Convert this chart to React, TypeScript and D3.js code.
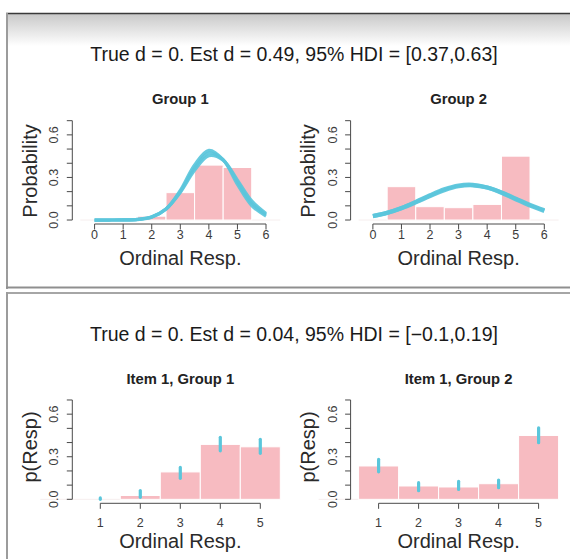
import React from "react";
import * as d3 from "d3";

const FONT = "'Liberation Sans', Arial, Helvetica, sans-serif";
const CYAN = "#5BC6DB";
const PINK = "#F7BBC1";
const AXIS = "#4a4a4a";
const TXT = "#3c3c3c";

const topTitle = "True d = 0. Est d = 0.49, 95% HDI = [0.37,0.63]";
const bottomTitle = "True d = 0. Est d = 0.04, 95% HDI = [\u22120.1,0.19]";
const groupTitles = ["Group 1", "Group 2"];
const itemTitles = ["Item 1, Group 1", "Item 1, Group 2"];
const topYLabel = "Probability";
const bottomYLabel = "p(Resp)";
const xLabel = "Ordinal Resp.";

const responses = [1, 2, 3, 4, 5];
const group1Props = [0, 0.027, 0.193, 0.387, 0.37];
const group2Props = [0.235, 0.094, 0.087, 0.11, 0.45];

const curveX = [0, 0.5, 1, 1.5, 2, 2.5, 3, 3.5, 4, 4.5, 5, 5.5, 6];
const g1CurveA = [0, 0, 0.0005, 0.004, 0.021, 0.077, 0.2, 0.368, 0.472, 0.424, 0.268, 0.118, 0.037];
const g1CurveB = [0, 0, 0.0004, 0.0034, 0.0195, 0.077, 0.209, 0.388, 0.491, 0.425, 0.251, 0.1015, 0.028];
const g1CurveC = [0, 0.0001, 0.0007, 0.0046, 0.0223, 0.0775, 0.1945, 0.35, 0.4527, 0.421, 0.281, 0.135, 0.0467];
const g2CurveA = [0.0278, 0.0503, 0.0829, 0.1243, 0.1694, 0.2104, 0.2377, 0.2445, 0.2289, 0.1951, 0.1513, 0.1068, 0.0686];
const g2CurveB = [0.0279, 0.0511, 0.0848, 0.1278, 0.1746, 0.2165, 0.2434, 0.2482, 0.2296, 0.1926, 0.1465, 0.1011, 0.0632];

const item1G1Low = [0.0, 0.014, 0.148, 0.342, 0.324];
const item1G1High = [0.01, 0.062, 0.225, 0.437, 0.423];
const item1G2Low = [0.194, 0.061, 0.07, 0.082, 0.399];
const item1G2High = [0.282, 0.117, 0.127, 0.136, 0.504];

const yTickValues = [0, 0.1, 0.2, 0.3, 0.4, 0.5, 0.6, 0.7];
const yLabelValues = [0, 0.3, 0.6];
const topXTicks = [0, 1, 2, 3, 4, 5, 6];
const bottomXTicks = [1, 2, 3, 4, 5];

type PanelProps = {
  off: number;
  top: boolean;
  title: string;
  ylabel: string;
  bars: number[];
  curves?: number[][];
  curveWidth?: number;
  low?: number[];
  high?: number[];
};

function Panel({ off, top, title, ylabel, bars, curves, curveWidth, low, high }: PanelProps) {
  const plotL = 72.3 + off;
  const plotR = 288.3 + off;
  const axisY = top ? 224 : 503.3;
  const plotT = axisY - 107.3;
  const x = d3
    .scaleLinear()
    .domain(top ? [-0.78, 6.78] : [0.3, 5.7])
    .range([plotL, plotR]);
  const y = d3.scaleLinear().domain([-0.028, 0.728]).range([axisY, plotT]);
  const xt = top ? topXTicks : bottomXTicks;
  const cx = (plotL + plotR) / 2;
  const line = d3
    .line<[number, number]>()
    .x((d) => x(d[0]))
    .y((d) => y(d[1]))
    .curve(d3.curveCatmullRom);
  const titleY = top ? 104 : 384;
  const tickLabY = top ? 238.5 : 527;
  const xLabY = top ? 265 : 548;
  const yLabCY = top ? 171 : 447;
  return (
    <g>
      <text x={cx} y={titleY} textAnchor="middle" fontFamily={FONT} fontWeight="bold" fontSize={14.8} fill="#222">
        {title}
      </text>
      <line x1={x(-0.5)} x2={x(top ? 6.5 : 5.5)} y1={y(0)} y2={y(0)} stroke="#f6eeee" strokeWidth={1} />
      {responses.map((r, i) => (
        <rect
          key={r}
          x={x(r - 0.5)}
          y={y(bars[i])}
          width={x(r + 0.5) - x(r - 0.5)}
          height={y(0) - y(bars[i])}
          fill={PINK}
          stroke="#ffffff"
          strokeWidth={1}
        />
      ))}
      {curves &&
        curves.map((c, k) => (
          <path
            key={k}
            d={line(curveX.map((v, i) => [v, c[i]] as [number, number])) || ""}
            fill="none"
            stroke={CYAN}
            strokeWidth={curveWidth || 3}
            opacity={0.92}
          />
        ))}
      {low &&
        high &&
        responses.map((r, i) => (
          <line
            key={r}
            x1={x(r)}
            x2={x(r)}
            y1={y(low[i])}
            y2={y(high[i])}
            stroke={CYAN}
            strokeWidth={3.2}
            strokeLinecap="round"
          />
        ))}
      <line x1={plotL} x2={plotL} y1={y(0)} y2={y(0.7)} stroke={AXIS} strokeWidth={1} />
      {yTickValues.map((v) => (
        <line key={v} x1={plotL - 5.5} x2={plotL} y1={y(v)} y2={y(v)} stroke={AXIS} strokeWidth={1} />
      ))}
      {yLabelValues.map((v) => (
        <text
          key={v}
          transform={`translate(${plotL - 14},${y(v)}) rotate(-90)`}
          textAnchor="middle"
          fontFamily={FONT}
          fontSize={12.5}
          fill={TXT}
        >
          {d3.format(".1f")(v)}
        </text>
      ))}
      <text
        transform={`translate(${37 + off},${yLabCY}) rotate(-90)`}
        textAnchor="middle"
        fontFamily={FONT}
        fontSize={20}
        fill="#2a2a2a"
      >
        {ylabel}
      </text>
      <line x1={x(xt[0])} x2={x(xt[xt.length - 1])} y1={axisY} y2={axisY} stroke={AXIS} strokeWidth={1} />
      {xt.map((v) => (
        <g key={v}>
          <line x1={x(v)} x2={x(v)} y1={axisY} y2={axisY + 5.5} stroke={AXIS} strokeWidth={1} />
          <text x={x(v)} y={tickLabY} textAnchor="middle" fontFamily={FONT} fontSize={12.5} fill={TXT}>
            {v}
          </text>
        </g>
      ))}
      <text x={cx} y={xLabY} textAnchor="middle" fontFamily={FONT} fontSize={20} fill="#2a2a2a">
        {xLabel}
      </text>
    </g>
  );
}

export default function App() {
  return (
    <svg
      width={570}
      height={559}
      style={{ position: "absolute", left: 0, top: 0, background: "#fff" }}
    >
      <defs>
        <linearGradient id="hdr" x1="0" y1="0" x2="0" y2="1">
          <stop offset="0" stopColor="#c9c9c9" />
          <stop offset="1" stopColor="#ffffff" />
        </linearGradient>
      </defs>
      <rect x={0} y={0} width={570} height={559} fill="#fff" />
      <rect x={7} y={14} width={563} height={32} fill="url(#hdr)" />
      <line x1={6} x2={570} y1={13.5} y2={13.5} stroke="#3a3a3a" strokeWidth={1.6} />
      <rect x={6} y={13} width={2} height={276} fill="#9c9c9c" />
      <rect x={6} y={286.5} width={564} height={2} fill="#8f8f8f" />
      <rect x={6} y={292} width={564} height={2} fill="#a6a6a6" />
      <rect x={6} y={292} width={2} height={267} fill="#9c9c9c" />

      <text x={294} y={61} textAnchor="middle" fontFamily={FONT} fontSize={19.5} fill="#1a1a1a">
        {topTitle}
      </text>
      <text x={294} y={341} textAnchor="middle" fontFamily={FONT} fontSize={19.5} fill="#1a1a1a">
        {bottomTitle}
      </text>

      <Panel off={0} top title={groupTitles[0]} ylabel={topYLabel} bars={group1Props} curves={[g1CurveA, g1CurveB, g1CurveC]} curveWidth={3.2} />
      <Panel off={278.3} top title={groupTitles[1]} ylabel={topYLabel} bars={group2Props} curves={[g2CurveA, g2CurveB]} curveWidth={4.2} />
      <Panel off={0} top={false} title={itemTitles[0]} ylabel={bottomYLabel} bars={group1Props} low={item1G1Low} high={item1G1High} />
      <Panel off={278.3} top={false} title={itemTitles[1]} ylabel={bottomYLabel} bars={group2Props} low={item1G2Low} high={item1G2High} />
    </svg>
  );
}
